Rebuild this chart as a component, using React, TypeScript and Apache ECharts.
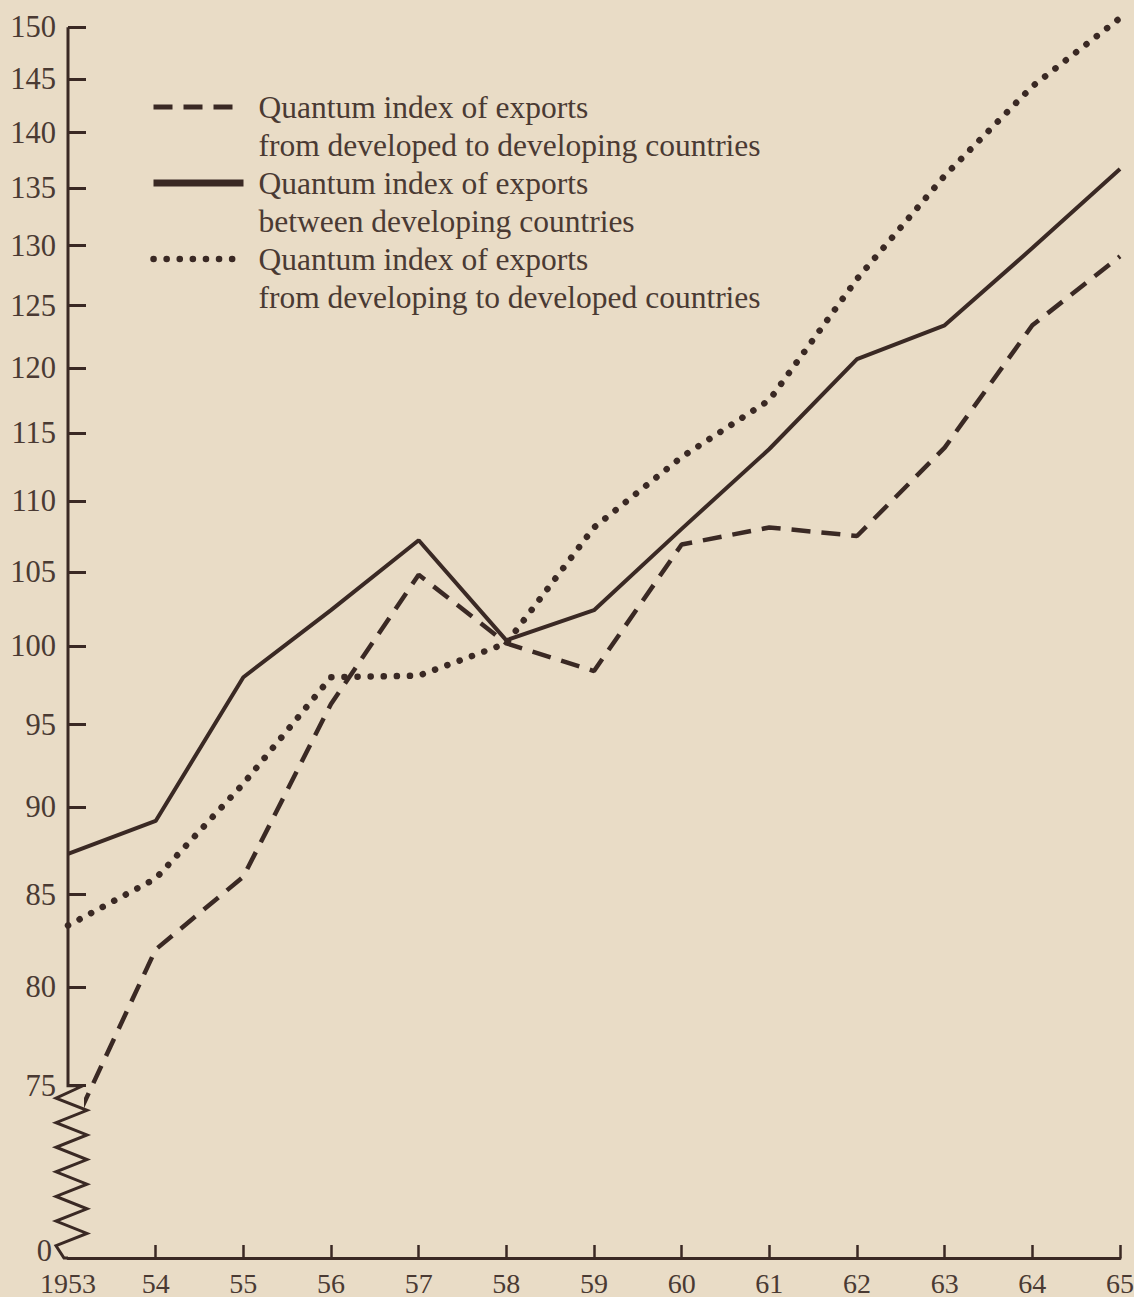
import React, { useEffect, useRef } from "react";
import * as echarts from "echarts";

// ---- data ----
const years = ["1953", "54", "55", "56", "57", "58", "59", "60", "61", "62", "63", "64", "65"];
const developedToDeveloping = [72.5, 82.0, 86.0, 96.3, 104.8, 100.2, 98.4, 106.9, 108.1, 107.5, 113.9, 123.4, 129.1];
const betweenDeveloping = [87.3, 89.2, 98.0, 102.4, 107.2, 100.4, 102.4, 108.0, 113.8, 120.7, 123.4, 129.8, 136.7];
const developingToDeveloped = [83.3, 85.9, 91.4, 98.0, 98.1, 100.2, 108.1, 113.2, 117.5, 127.2, 136.1, 144.3, 150.9];
const yTicks = [75, 80, 85, 90, 95, 100, 105, 110, 115, 120, 125, 130, 135, 140, 145, 150];
const breakFloor = 67; // bottom of the broken axis, labelled "0"
const breakTop = 75;
const axisTop = 150;
const axisMax = 151.5;
const legendTitle = "Quantum index of exports";
const legendDetails = [
  "from developed to developing countries",
  "between developing countries",
  "from developing to developed countries",
];

const ink = "#3a2924";
const textInk = "#4a3a33";
const paper = "#e9dcc6";
const font = "Liberation Serif";

const seriesNames = legendDetails.map((d) => `${legendTitle} ${d}`);

export default function App() {
  const ref = useRef<HTMLDivElement>(null);
  useEffect(() => {
    if (!ref.current) return;
    const chart = echarts.init(ref.current, null, { renderer: "svg" });
    const option: any = {
      animation: false,
      backgroundColor: paper,
      grid: { left: 68, right: 14, top: 12, bottom: 39, containLabel: false, outerBoundsMode: "none" },
      legend: {
        orient: "vertical",
        left: 145,
        top: 45,
        selectedMode: false,
        itemWidth: 90,
        itemHeight: 14,
        itemGap: -38,
        itemStyle: { opacity: 0 },
        formatter: (name: string) => "\n" + name.replace(legendTitle + " ", legendTitle + "\n"),
        textStyle: {
          fontFamily: font,
          fontSize: 31.5,
          lineHeight: 38,
          color: textInk,
          padding: [0, 0, 0, 10],
        },
        data: [
          { name: seriesNames[0], lineStyle: { width: 5 } },
          { name: seriesNames[1], lineStyle: { width: 7 } },
          { name: seriesNames[2], lineStyle: { width: 6.5 } },
        ],
      },
      xAxis: {
        type: "category",
        data: years,
        boundaryGap: false,
        axisLine: { lineStyle: { color: ink, width: 3 } },
        axisTick: {
          inside: true,
          length: 13,
          interval: (i: number) => i !== 0,
          lineStyle: { color: ink, width: 2.5 },
        },
        axisLabel: { interval: 0, fontFamily: font, fontSize: 28, color: textInk, margin: 11 },
        splitLine: { show: false },
      },
      yAxis: {
        type: "log",
        logBase: 10,
        min: breakFloor,
        max: axisMax,
        axisLine: { show: false },
        splitLine: { show: false },
        axisTick: {
          show: true,
          inside: true,
          length: 18,
          customValues: yTicks,
          lineStyle: { color: ink, width: 3 },
        },
        axisLabel: {
          customValues: [breakFloor + 0.01, ...yTicks],
          formatter: (v: number) => (v < 70 ? "{z|0}" : String(Math.round(v))),
          fontFamily: font,
          fontSize: 30.5,
          color: textInk,
          margin: 12,
          rich: {
            z: { fontFamily: font, fontSize: 30.5, color: textInk, padding: [0, 4, 14, 0] },
          },
        },
      },
      series: [
        {
          name: seriesNames[0],
          type: "line",
          data: developedToDeveloping,
          symbol: "none",
          itemStyle: { color: ink },
          lineStyle: { color: ink, width: 4.5, type: [19, 11], cap: "butt" },
          z: 3,
        },
        {
          name: seriesNames[1],
          type: "line",
          data: betweenDeveloping,
          symbol: "none",
          itemStyle: { color: ink },
          lineStyle: { color: ink, width: 4, type: "solid" },
          z: 3,
        },
        {
          name: seriesNames[2],
          type: "line",
          data: developingToDeveloped,
          symbol: "none",
          itemStyle: { color: ink },
          lineStyle: { color: ink, width: 6.5, type: [0.1, 13], cap: "round" },
          z: 3,
        },
        {
          name: "axis",
          type: "custom",
          silent: true,
          clip: false,
          data: [[0, axisTop]],
          renderItem: (_params: any, api: any) => {
            const top = api.coord([0, axisTop]);
            const knee = api.coord([0, breakTop]);
            const floor = api.coord([0, breakFloor]);
            const x = top[0];
            const pts: number[][] = [
              [x, top[1]],
              [x, knee[1]],
              [x + 15, knee[1]],
            ];
            const n = 13;
            const h = floor[1] - knee[1];
            for (let i = 1; i <= n; i++) {
              const yy = knee[1] + (h * i) / (n + 1);
              pts.push([i % 2 === 1 ? x - 12 : x + 19, yy]);
            }
            pts.push([x - 4, floor[1]]);
            pts.push([x, floor[1]]);
            return {
              type: "group",
              children: [
                {
                  type: "rect",
                  shape: { x: x - 4, y: knee[1] + 3, width: 20, height: floor[1] - knee[1] - 6 },
                  style: { fill: paper },
                },
                {
                  type: "polyline",
                  shape: { points: pts },
                  style: { stroke: ink, lineWidth: 3, fill: "none", lineJoin: "miter" },
                },
              ],
            };
          },
          z: 4,
        },
      ],
    };
    chart.setOption(option);
    return () => chart.dispose();
  }, []);
  return (
    <div
      ref={ref}
      style={{ position: "fixed", left: 0, top: 0, width: 1134, height: 1297 }}
    />
  );
}
